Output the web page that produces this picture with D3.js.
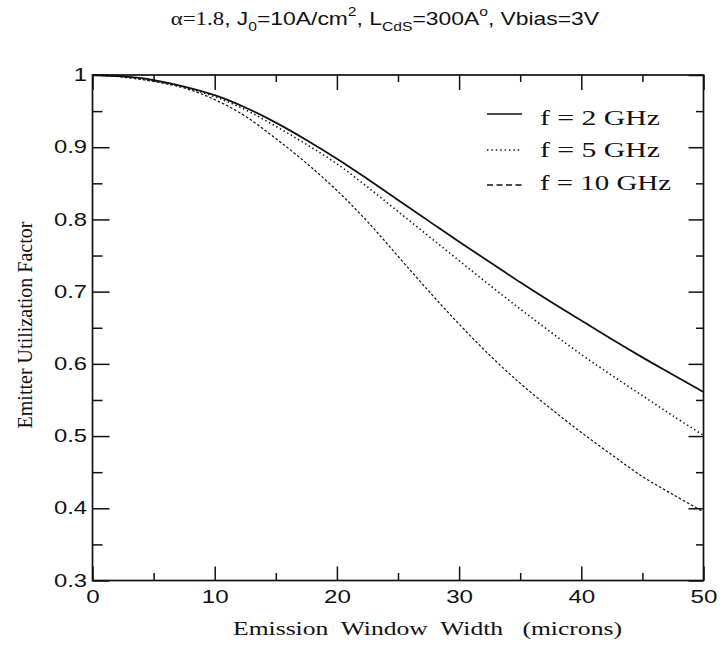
<!DOCTYPE html>
<html><head><meta charset="utf-8">
<script src="https://cdn.jsdelivr.net/npm/d3@7"></script>
<style>body{margin:0;background:#fff} svg{display:block}</style>
</head><body>
<svg id="c" width="720" height="657"></svg>
<script>
// ---- data ----
const windowWidth = [0,2.5,5,7.5,10,12.5,15,17.5,20,22.5,25,27.5,30,32.5,35,37.5,40,42.5,45,47.5,50];
const euf2GHz  = [1.0,0.998,0.993,0.984,0.972,0.955,0.934,0.910,0.884,0.856,0.827,0.798,0.769,0.741,0.713,0.686,0.660,0.634,0.609,0.585,0.561];
const euf5GHz  = [1.0,0.998,0.992,0.983,0.970,0.952,0.929,0.904,0.877,0.845,0.811,0.777,0.743,0.709,0.676,0.644,0.613,0.584,0.556,0.528,0.501];
const euf10GHz = [1.0,0.997,0.991,0.982,0.966,0.943,0.912,0.878,0.840,0.797,0.749,0.701,0.655,0.612,0.573,0.538,0.505,0.474,0.444,0.419,0.395];
const seriesNames = ["f = 2 GHz","f = 5 GHz","f = 10 GHz"];
const xMajorTicks = [0,10,20,30,40,50];
const xMinorTicks = [5,15,25,35,45];
const yMajorTicks = [0.3,0.4,0.5,0.6,0.7,0.8,0.9,1.0];
const yMinorTicks = [0.35,0.45,0.55,0.65,0.75,0.85,0.95];
const yTickLabels = ["0.3","0.4","0.5","0.6","0.7","0.8","0.9","1"];
const xTickLabels = ["0","10","20","30","40","50"];

const svg = d3.select("#c");
const L=92.5, R=703.5, T=75, B=580.5;
const x = d3.scaleLinear().domain([0,50]).range([L,R]);
const y = d3.scaleLinear().domain([0.3,1]).range([B,T]);
const SANS = "'Liberation Sans', Arial, Helvetica, sans-serif";
const SERIF = "'Liberation Serif', 'Times New Roman', Times, serif";

function fit(sel, x0, w){
  const node = sel.node(); const bb = node.getBBox();
  const sx = w/bb.width;
  sel.attr("transform", `translate(${x0},0) scale(${sx},1) translate(${-bb.x},0)`);
}
function stretchTicks(g, sx){
  g.selectAll(".tick text").each(function(){
    const t=d3.select(this); const tx=+t.attr("x")||0;
    t.attr("transform",`translate(${tx},0) scale(${sx},1) translate(${-tx},0)`);
  });
}
function styleAxis(g){
  g.select(".domain").remove();
  g.selectAll(".tick line").attr("stroke","#111").attr("stroke-width",1.5);
  g.selectAll(".tick text").attr("fill","#111").attr("font-family",SANS).attr("font-size",17.5);
}

// left
const gl = svg.append("g").attr("transform",`translate(${L},0)`)
  .call(d3.axisLeft(y).tickValues(yMajorTicks).tickSize(-17).tickSizeOuter(0).tickPadding(5.5)
    .tickFormat((d,i)=>yTickLabels[i]));
styleAxis(gl); stretchTicks(gl,1.36);
const glm = svg.append("g").attr("transform",`translate(${L},0)`)
  .call(d3.axisLeft(y).tickValues(yMinorTicks).tickSize(-10).tickSizeOuter(0).tickFormat(""));
styleAxis(glm);
// right
const gr = svg.append("g").attr("transform",`translate(${R},0)`)
  .call(d3.axisRight(y).tickValues(yMajorTicks).tickSize(-15).tickSizeOuter(0).tickFormat(""));
styleAxis(gr);
const grm = svg.append("g").attr("transform",`translate(${R},0)`)
  .call(d3.axisRight(y).tickValues(yMinorTicks).tickSize(-7.5).tickSizeOuter(0).tickFormat(""));
styleAxis(grm);
// bottom
const gb = svg.append("g").attr("transform",`translate(0,${B})`)
  .call(d3.axisBottom(x).tickValues(xMajorTicks).tickSize(-14).tickSizeOuter(0).tickPadding(10)
    .tickFormat((d,i)=>xTickLabels[i]));
styleAxis(gb); stretchTicks(gb,1.38);
const gbm = svg.append("g").attr("transform",`translate(0,${B})`)
  .call(d3.axisBottom(x).tickValues(xMinorTicks).tickSize(-7.5).tickSizeOuter(0).tickFormat(""));
styleAxis(gbm);
// top
const gt = svg.append("g").attr("transform",`translate(0,${T})`)
  .call(d3.axisTop(x).tickValues(xMajorTicks).tickSize(-15).tickSizeOuter(0).tickFormat(""));
styleAxis(gt);
const gtm = svg.append("g").attr("transform",`translate(0,${T})`)
  .call(d3.axisTop(x).tickValues(xMinorTicks).tickSize(-7).tickSizeOuter(0).tickFormat(""));
styleAxis(gtm);

// frame
svg.append("rect").attr("x",L).attr("y",T).attr("width",R-L).attr("height",B-T)
  .attr("fill","none").attr("stroke","#111").attr("stroke-width",1.7);

// curves
const styles = [
  {dash:null, w:1.8, legDash:null},
  {dash:"1.4,2.8", w:1.6, legDash:"1.4,3"},
  {dash:"2.6,2", w:1.2, legDash:"6,3.5"}
];
const allSeries = [euf2GHz, euf5GHz, euf10GHz];
const line = d3.line().x((d,i)=>x(windowWidth[i])).y(d=>y(d)).curve(d3.curveCatmullRom.alpha(0.5));
allSeries.forEach((s,k)=>{
  svg.append("path").datum(s).attr("d",line).attr("fill","none")
    .attr("stroke","#111").attr("stroke-width",styles[k].w)
    .attr("stroke-dasharray",styles[k].dash);
});

// legend
const legLineY = [114,150,185];
const legTextY = [125,157,190];
const legTextW = [120,120,131];
seriesNames.forEach((n,k)=>{
  svg.append("line").attr("x1",487).attr("x2",522).attr("y1",legLineY[k]).attr("y2",legLineY[k])
    .attr("stroke","#111").attr("stroke-width",k===0?1.6:1.4).attr("stroke-dasharray",styles[k].legDash);
  const t = svg.append("text").attr("x",540).attr("y",legTextY[k]).attr("font-family",SERIF)
    .attr("font-size",21).attr("fill","#111").text(n);
  fit(t,540,legTextW[k]);
});

// title
const title = svg.append("text").attr("x",0).attr("y",25).attr("font-family",SANS).attr("font-size",19).attr("fill","#111");
title.append("tspan").attr("font-family",SERIF).text("α=1.8");
title.append("tspan").text(", J");
title.append("tspan").attr("font-size",13).attr("dy",6.5).text("0");
title.append("tspan").attr("dy",-6.5).text("=10A/cm");
title.append("tspan").attr("font-size",13).attr("dy",-9).text("2");
title.append("tspan").attr("dy",9).text(", L");
title.append("tspan").attr("font-size",13).attr("dy",6.5).text("CdS");
title.append("tspan").attr("dy",-6.5).text("=300A");
title.append("tspan").attr("font-size",13).attr("dy",-9).text("o");
title.append("tspan").attr("dy",9).text(", Vbias=3V");
fit(title,170.7,429);

// axis titles
const xt = svg.append("text").attr("x",0).attr("y",635).attr("font-family",SERIF).attr("font-size",19)
  .attr("fill","#111").style("white-space","pre").text("Emission  Window  Width   (microns)");
fit(xt,233,389);
svg.append("text").attr("transform","translate(32,325) rotate(-90)").attr("text-anchor","middle")
  .attr("font-family",SERIF).attr("font-size",20).attr("fill","#111")
  .attr("textLength",207).attr("lengthAdjust","spacingAndGlyphs")
  .text("Emitter Utilization Factor");
</script>
</body></html>
